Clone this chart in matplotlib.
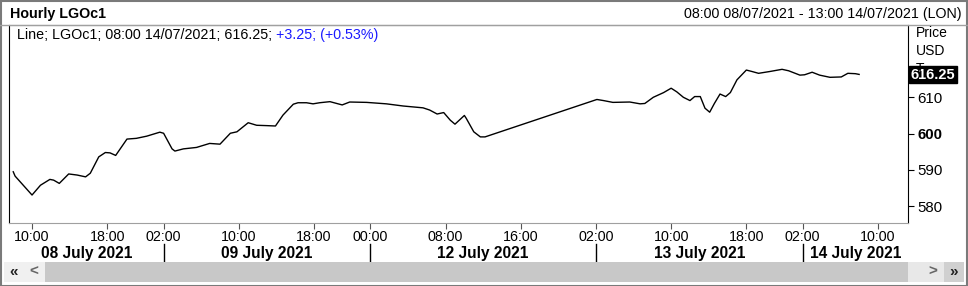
import matplotlib
matplotlib.use("Agg")
import matplotlib.pyplot as plt
from matplotlib.patches import Rectangle
from matplotlib.transforms import blended_transform_factory

plt.rcParams["font.family"] = ["Liberation Sans", "DejaVu Sans"]

# trading-hour index (0 = 08:00 08/07/2021, sessions 01:00-22:00 London)
hours = [0, 0.2, 2.0, 2.9, 3.9, 4.3, 4.9, 5.9, 6.8, 7.7, 8.2, 9.1, 9.8, 10.3,
         10.9, 12.1, 13.1, 14.2, 15.6, 16.0, 16.9, 17.2, 18.1, 19.5, 20.9,
         22.0, 23.1, 23.8, 25.0, 25.9, 27.0, 27.9, 28.7, 29.8, 30.3, 31.2,
         31.9, 32.6, 33.7, 35.0, 35.8, 37.6, 39.7, 41.5, 43.6, 44.3, 45.1,
         45.8, 46.5, 47.0, 48.0, 48.2, 49.0, 49.7, 50.2, 62.1, 62.8, 63.8,
         65.6, 66.7, 67.2, 68.1, 69.2, 70.0, 70.6, 71.3, 72.0, 72.5, 73.1,
         73.6, 74.1, 74.6, 75.2, 75.8, 76.3, 77.0, 78.0, 78.6, 79.3, 80.5,
         81.8, 82.5, 83.7, 84.2, 85.0, 85.8, 86.9, 88.1, 88.8, 89.6, 90.0]
price = [589.5, 588.3, 583.1, 585.8, 587.4, 587.2, 586.3, 588.9, 588.6, 588.1,
         589.1, 593.6, 594.8, 594.7, 594.0, 598.5, 598.7, 599.3, 600.4, 600.1,
         595.8, 595.2, 595.8, 596.2, 597.3, 597.1, 600.1, 600.5, 603.0, 602.3,
         602.2, 602.1, 605.1, 608.1, 608.5, 608.5, 608.2, 608.5, 608.8, 607.9,
         608.7, 608.6, 608.2, 607.6, 607.1, 606.5, 605.4, 605.8, 603.7, 602.6,
         605.0, 604.2, 600.5, 599.1, 599.1, 609.4, 609.1, 608.6, 608.7, 608.2,
         608.3, 610.0, 611.3, 612.5, 611.5, 610.0, 609.1, 610.2, 610.2, 607.0,
         605.9, 608.3, 610.9, 610.2, 611.3, 614.8, 617.5, 617.1, 616.6, 617.1,
         617.7, 617.3, 616.1, 616.2, 616.9, 616.1, 615.5, 615.6, 616.6, 616.5,
         616.3]

tick_hours = [2, 10, 16, 24, 32, 38, 46, 54, 62, 70, 78, 84, 92]
tick_labels = ["10:00", "18:00", "02:00", "10:00", "18:00", "00:00", "08:00",
               "16:00", "02:00", "10:00", "18:00", "02:00", "10:00"]
day_breaks = [16, 38, 62, 84]
day_labels = ["08 July 2021", "09 July 2021", "12 July 2021",
              "13 July 2021", "14 July 2021"]
price_ticks = [580, 590, 600, 610]
last_price = 616.25

W, H = 968, 286
fig = plt.figure(figsize=(W / 100, H / 100), dpi=100)


def box(x0, y0, x1, y1):
    return [x0 / W, 1 - y1 / H, (x1 - x0) / W, (y1 - y0) / H]


def fx(x):
    return x / W


def fy(y):
    return 1 - y / H


# outer frame and header
fig.patches.append(Rectangle((0.5 / W, 0.5 / H), 1 - 1.5 / W, 1 - 1.5 / H,
                             transform=fig.transFigure, fill=False,
                             edgecolor="#7a7a7a", lw=1.5))
fig.text(fx(10), fy(14), "Hourly LGOc1", fontsize=10.3, fontweight="bold",
         va="center", ha="left")
fig.text(fx(962), fy(14), "08:00 08/07/2021 - 13:00 14/07/2021 (LON)",
         fontsize=10.3, va="center", ha="right")
fig.lines.append(plt.Line2D([0, 1], [fy(25), fy(25)], transform=fig.transFigure,
                            color="#a0a0a0", lw=1))

ax = fig.add_axes(box(9, 25, 908, 223))
ax.plot(hours, price, color="black", lw=1)
ax.set_xlim(-0.45, 95.2)
ax.set_ylim(575.4, 629.9)

for side in ("top", "bottom"):
    ax.spines[side].set_color("#a0a0a0")
for side in ("left", "right"):
    ax.spines[side].set_color("black")

ax.yaxis.tick_right()
ax.set_yticks(price_ticks, [str(p) for p in price_ticks])
for lbl in ax.get_yticklabels():
    if lbl.get_text() == "600":
        lbl.set_fontweight("bold")
ax.tick_params(axis="y", length=4, pad=3, labelsize=10.8, direction="out")
ax.set_xticks(tick_hours, tick_labels)
ax.tick_params(axis="x", length=4, pad=1, labelsize=10.3, color="#555555")

# legend line
t1 = ax.text(8 / 899, 0.95, "Line; LGOc1; 08:00 14/07/2021; 616.25; ",
             transform=ax.transAxes, fontsize=10.3, va="center", ha="left")
ax.annotate("+3.25; (+0.53%)", xy=(1, 0), xycoords=t1, va="bottom",
            ha="left", fontsize=10.3, color="#1a1aff")

# right axis headings and last price box
fig.text(fx(916), fy(33), "Price", fontsize=10, va="center", ha="left")
fig.text(fx(916), fy(51), "USD", fontsize=10, va="center", ha="left")
fig.text(fx(916), fy(69), "T", fontsize=10, va="center", ha="left")
ax.annotate(f"{last_price:.2f}", xy=(1, last_price),
            xycoords=("axes fraction", "data"), xytext=(2, 0),
            textcoords="offset points", va="center", ha="left",
            fontsize=10.5, fontweight="bold", color="white",
            bbox=dict(boxstyle="square,pad=0.12", fc="black", ec="black"),
            annotation_clip=False, zorder=5)

# day labels and separators under the time axis
trans = blended_transform_factory(ax.transData, ax.transAxes)
lo, hi = ax.get_xlim()
edges = [lo] + day_breaks + [hi]
for b in day_breaks:
    ax.plot([b, b], [-0.106, -0.197], transform=trans, color="black",
            lw=1, clip_on=False)
for i, lab in enumerate(day_labels):
    ax.text((edges[i] + edges[i + 1]) / 2, -0.152, lab, transform=trans,
            ha="center", va="center", fontsize=11.2, fontweight="bold")

# scrollbar
fig.patches.append(Rectangle((fx(4), fy(282)), fx(41), (282 - 262) / H,
                             transform=fig.transFigure, fc="#f0f0f0", ec="none"))
fig.patches.append(Rectangle((fx(45), fy(282)), fx(908 - 45), (282 - 262) / H,
                             transform=fig.transFigure, fc="#c8c8c8", ec="none"))
fig.patches.append(Rectangle((fx(908), fy(282)), fx(36), (282 - 262) / H,
                             transform=fig.transFigure, fc="#e8e8e8", ec="none"))
fig.patches.append(Rectangle((fx(944), fy(282)), fx(20), (282 - 262) / H,
                             transform=fig.transFigure, fc="#d0d0d0", ec="none"))
for x, s in [(14, "\u00ab"), (34, "<"), (933, ">"), (954, "\u00bb")]:
    fig.text(fx(x), fy(272), s, fontsize=11, fontweight="bold",
             color="#222222" if s in "\u00ab\u00bb" else "#666666",
             ha="center", va="center")

fig.savefig("out.png", dpi=100)
